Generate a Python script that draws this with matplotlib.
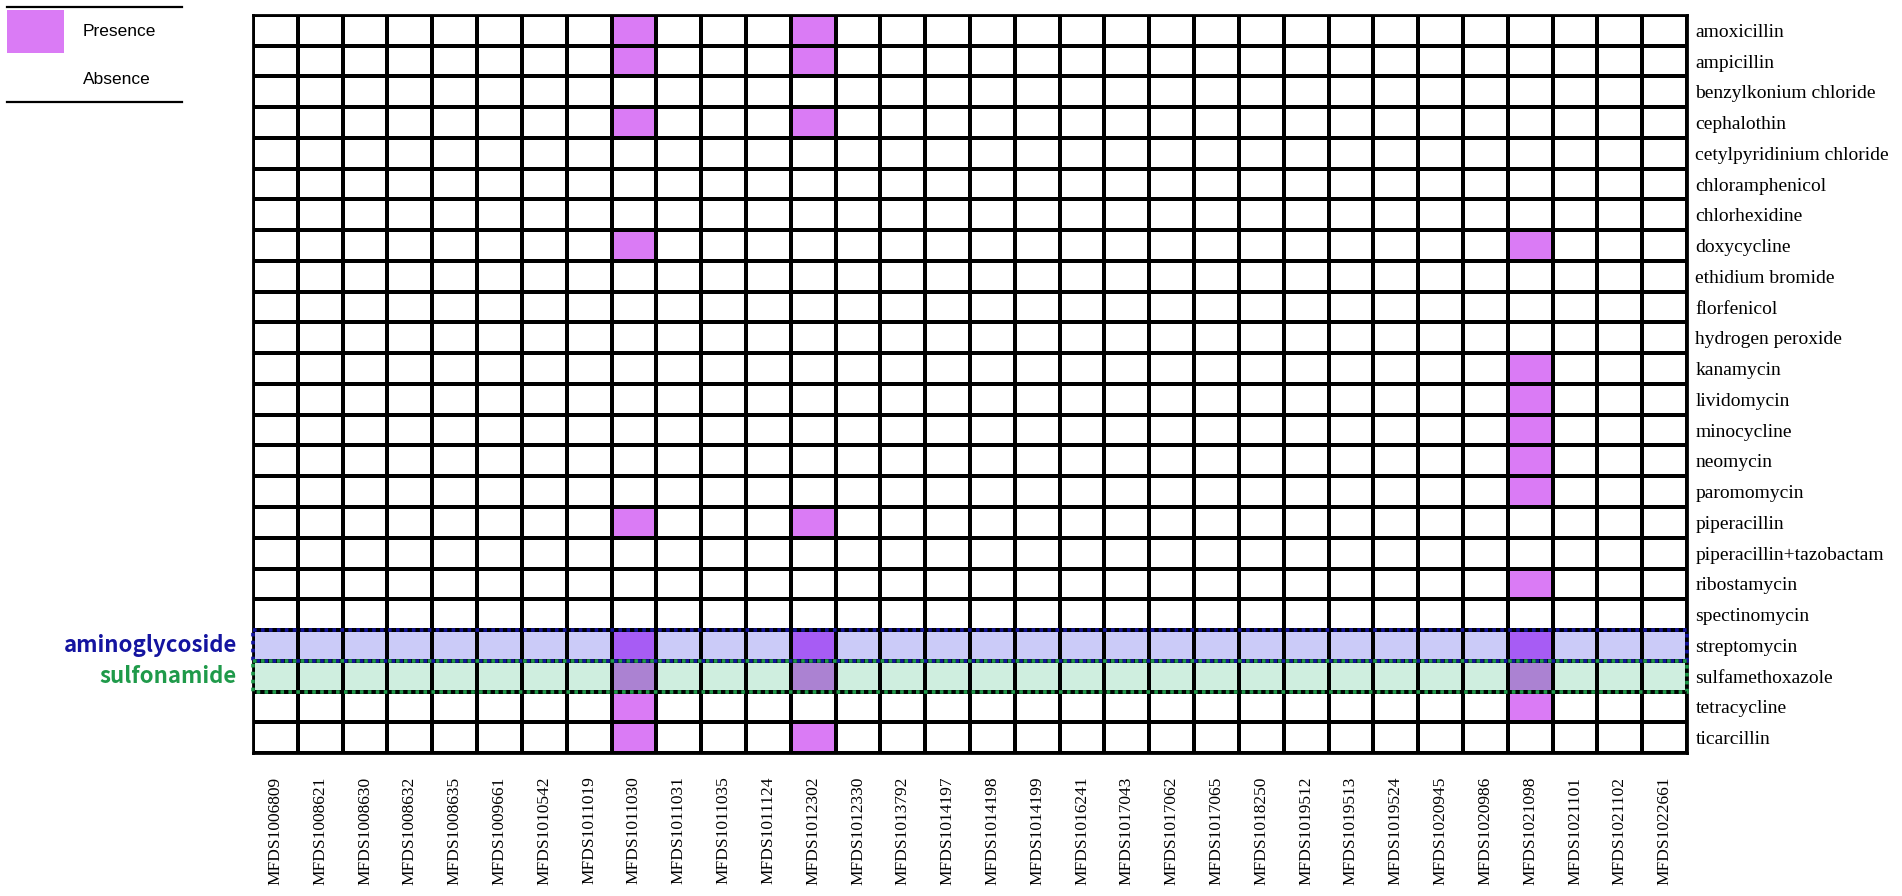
import numpy as np
import matplotlib
matplotlib.use("Agg")
from matplotlib import pyplot as plt
from matplotlib.colors import ListedColormap
from matplotlib.patches import Rectangle

isolates = [
    "MFDS1006809", "MFDS1008621", "MFDS1008630", "MFDS1008632", "MFDS1008635",
    "MFDS1009661", "MFDS1010542", "MFDS1011019", "MFDS1011030", "MFDS1011031",
    "MFDS1011035", "MFDS1011124", "MFDS1012302", "MFDS1012330", "MFDS1013792",
    "MFDS1014197", "MFDS1014198", "MFDS1014199", "MFDS1016241", "MFDS1017043",
    "MFDS1017062", "MFDS1017065", "MFDS1018250", "MFDS1019512", "MFDS1019513",
    "MFDS1019524", "MFDS1020945", "MFDS1020986", "MFDS1021098", "MFDS1021101",
    "MFDS1021102", "MFDS1022661",
]
compounds = [
    "amoxicillin", "ampicillin", "benzylkonium chloride", "cephalothin",
    "cetylpyridinium chloride", "chloramphenicol", "chlorhexidine", "doxycycline",
    "ethidium bromide", "florfenicol", "hydrogen peroxide", "kanamycin",
    "lividomycin", "minocycline", "neomycin", "paromomycin", "piperacillin",
    "piperacillin+tazobactam", "ribostamycin", "spectinomycin", "streptomycin",
    "sulfamethoxazole", "tetracycline", "ticarcillin",
]

# compounds with a resistance gene present, per isolate (others: absent)
presence = {
    "MFDS1011030": ["amoxicillin", "ampicillin", "cephalothin", "doxycycline",
                    "piperacillin", "streptomycin", "sulfamethoxazole",
                    "tetracycline", "ticarcillin"],
    "MFDS1012302": ["amoxicillin", "ampicillin", "cephalothin", "piperacillin",
                    "streptomycin", "sulfamethoxazole", "ticarcillin"],
    "MFDS1021098": ["doxycycline", "kanamycin", "lividomycin", "minocycline",
                    "neomycin", "paromomycin", "ribostamycin", "streptomycin",
                    "sulfamethoxazole", "tetracycline"],
}

# highlighted rows: (compound, group label, edge colour)
groups = [
    ("streptomycin", "aminoglycoside", "#1414a0"),
    ("sulfamethoxazole", "sulfonamide", "#1f9a4a"),
]

n_rows, n_cols = len(compounds), len(isolates)
mat = np.zeros((n_rows, n_cols), dtype=int)
for iso, comps in presence.items():
    for c in comps:
        mat[compounds.index(c), isolates.index(iso)] = 1

# code: 0 absent, 1 present, 2/3 aminoglycoside band, 4/5 sulfonamide band
codes = mat.copy()
for k, (comp, _, _) in enumerate(groups):
    r = compounds.index(comp)
    codes[r] = 2 + 2 * k + mat[r]

cmap = ListedColormap(["#ffffff", "#da7bf5", "#cbcbf8", "#a75cf4",
                       "#cfeedf", "#ab82d2"])

fig = plt.figure(figsize=(19.02, 8.96), dpi=100)
ax = fig.add_axes([253 / 1902, 1 - 753 / 896, 1434 / 1902, 738 / 896])

ax.pcolormesh(np.arange(n_cols + 1), np.arange(n_rows + 1), codes,
              cmap=cmap, vmin=-0.5, vmax=5.5,
              edgecolors="black", linewidth=1.7)
ax.set_xlim(0, n_cols)
ax.set_ylim(n_rows, 0)

for spine in ax.spines.values():
    spine.set_linewidth(2.0)

ax.set_xticks(np.arange(n_cols) + 0.5)
ax.set_xticklabels(isolates, rotation=90, family="Liberation Serif",
                   fontsize=12.5, va="top")
ax.yaxis.tick_right()
ax.set_yticks(np.arange(n_rows) + 0.5)
ax.set_yticklabels(compounds, family="Liberation Serif", fontsize=14)
ax.tick_params(axis="x", length=0, pad=17)
ax.tick_params(axis="y", length=0, pad=6)

for comp, label, col in groups:
    r = compounds.index(comp)
    ax.add_patch(Rectangle((0, r), n_cols, 1, fill=False, edgecolor=col,
                           linewidth=2.6, linestyle=(0, (1, 1.2)),
                           clip_on=False, zorder=5))
    ax.text(-0.36, r + 0.5, label, ha="right", va="center", color=col,
            family=["Noto Sans CJK KR", "DejaVu Sans"], fontweight="bold",
            fontsize=16)

# legend box at top left
lg = fig.add_axes([0, 1 - 110 / 896, 190 / 1902, 110 / 896])
lg.set_xlim(0, 190)
lg.set_ylim(110, 0)
lg.axis("off")
lg.plot([7, 182], [7, 7], color="black", lw=1.6)
lg.plot([7, 182], [102, 102], color="black", lw=1.6)
lg.add_patch(Rectangle((7, 10), 57, 43, facecolor=cmap(1), edgecolor="none"))
lg.text(83, 32, "Presence", va="center", ha="left",
        family="Liberation Sans", fontsize=12.5)
lg.text(83, 79, "Absence", va="center", ha="left",
        family="Liberation Sans", fontsize=12.5)

fig.savefig("out.png", dpi=100)
